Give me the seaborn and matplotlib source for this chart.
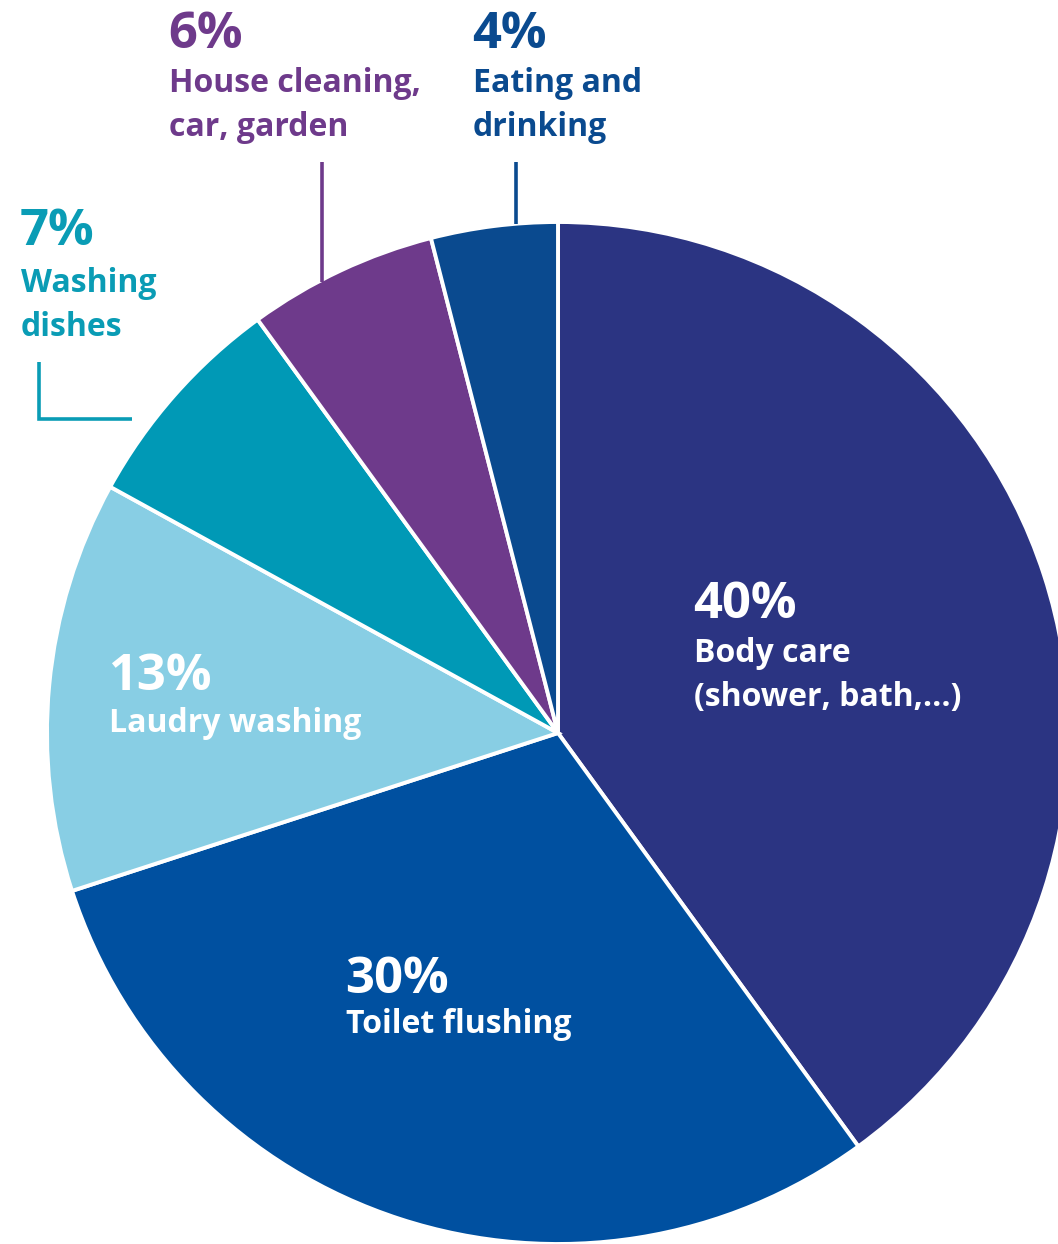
import matplotlib
matplotlib.use("Agg")
import matplotlib.pyplot as plt
import seaborn as sns

# Household water use by activity (share of total, %)
categories = ["Body care\n(shower, bath,...)", "Toilet flushing", "Laudry washing",
              "Washing\ndishes", "House cleaning,\ncar, garden", "Eating and\ndrinking"]
shares = [40, 30, 13, 7, 6, 4]
slice_colors = ["#2B3482", "#0050A0", "#88CEE4", "#0099B6", "#6E3A8B", "#0A4A8F"]
label_colors = ["white", "white", "white", "#0A9CB5", "#6E3A8B", "#0A4A8F"]

sns.set_theme(style="white")
plt.rcParams["font.family"] = ["Open Sans", "DejaVu Sans"]

W, H = 1058, 1244
fig = plt.figure(figsize=(W / 100, H / 100), dpi=100)
ax = fig.add_axes([0, 0, 1, 1])

cx, cy, r = 558, 733, 511


def py(y):
    """Convert a top-down pixel row into the axes' bottom-up y."""
    return H - y


ax.pie(shares, colors=sns.color_palette(slice_colors), startangle=90, counterclock=False,
       center=(cx, py(cy)), radius=r, frame=True,
       wedgeprops=dict(edgecolor="white", linewidth=2.8))
ax.set_xlim(0, W)
ax.set_ylim(0, H)
ax.set_aspect("equal")
ax.axis("off")

# label placement: left x, baseline of the percentage, baseline of the first text line
anchors = [(693, 618, 662), (345, 993, 1033), (108, 690, 732),
           (20, 245, 292), (168, 48, 92), (472, 48, 92)]
line_pitch = 44
for cat, val, col, (x, y_pct, y_txt) in zip(categories, shares, label_colors, anchors):
    ax.text(x, py(y_pct), f"{val}%", color=col, fontsize=36.5, fontweight="bold",
            ha="left", va="baseline")
    for i, line in enumerate(cat.split("\n")):
        ax.text(x + 1, py(y_txt + i * line_pitch), line, color=col, fontsize=23,
                fontweight="bold", ha="left", va="baseline")

# leader lines for the outside labels
lw = 2.6
ax.plot([322, 322], [py(162), py(282)], color="#6E3A8B", lw=lw, solid_capstyle="butt")
ax.plot([516, 516], [py(162), py(224)], color="#0A4A8F", lw=lw, solid_capstyle="butt")
ax.plot([39, 39, 132], [py(362), py(419), py(419)], color="#0A9CB5", lw=lw,
        solid_capstyle="butt", solid_joinstyle="miter")

fig.savefig("out.png", dpi=100, facecolor="white")
